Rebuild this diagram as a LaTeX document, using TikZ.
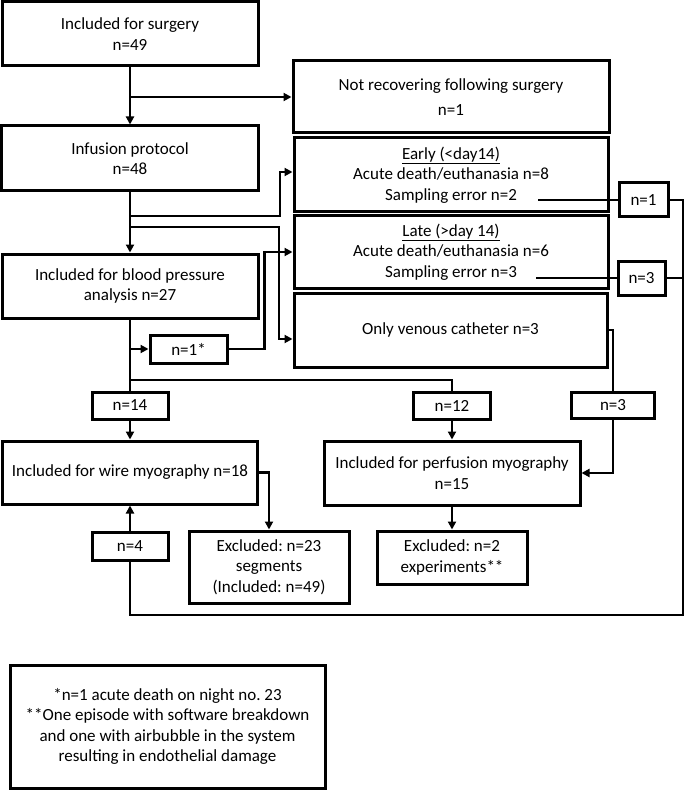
\documentclass[tikz,border=0pt]{standalone}
\usepackage{fontspec}
\setmainfont{Carlito}
\usepackage{tikz}
\usetikzlibrary{arrows.meta}
\frenchspacing

\begin{document}
\begin{tikzpicture}[x=1pt,y=-1pt,
  box/.style={draw,line width=3pt,align=center,inner sep=0pt,font=\fontsize{17}{20.5}\selectfont},
  link/.style={line width=2.6pt},
  arr/.style={link,-{Triangle[length=8pt,width=8pt]}}]
\useasboundingbox (0,0) rectangle (685,794);
% left column
\node[box,minimum width=256pt,minimum height=64pt] (surgery) at (130,34) {Included for surgery\\n=49};
\node[box,minimum width=257pt,minimum height=65pt] (infusion) at (130,158.5) {Infusion protocol\\n=48};
\node[box,minimum width=256pt,minimum height=64pt] (bp) at (130,286) {Included for blood pressure\\analysis n=27};
\node[box,minimum width=77pt,minimum height=28pt] (nstar) at (188.5,349) {n=1*};
\node[box,minimum width=76pt,minimum height=27pt] (nfourteen) at (130,405.5) {n=14};
\node[box,minimum width=255pt,minimum height=63pt] (wire) at (130,472.5) {Included for wire myography n=18};
\node[box,minimum width=76pt,minimum height=28pt] (nfour) at (130,546) {n=4};
\node[box,minimum width=160pt,minimum height=72pt] (exwire) at (269,567) {Excluded: n=23\\segments\\(Included: n=49)};
% right column
\node[box,minimum width=316pt,minimum height=72pt] (notrec) at (451,97) {Not recovering following surgery\\[4pt]n=1};
\node[box,minimum width=314pt,minimum height=74pt] (early) at (451,175) {\underline{Early (<day14)}\\Acute death/euthanasia n=8\\Sampling error n=2};
\node[box,minimum width=314pt,minimum height=72pt] (late) at (451,252) {\underline{Late (>day 14)}\\Acute death/euthanasia n=6\\Sampling error n=3};
\node[box,minimum width=313pt,minimum height=74pt] (venous) at (450.5,330) {Only venous catheter n=3};
\node[box,minimum width=49pt,minimum height=34pt] (none) at (643.5,200) {n=1};
\node[box,minimum width=47pt,minimum height=34pt] (nthree) at (641.5,278) {n=3};
\node[box,minimum width=77pt,minimum height=27pt] (ntwelve) at (452,405.5) {n=12};
\node[box,minimum width=83pt,minimum height=26pt] (nthreeb) at (613,405.5) {n=3};
\node[box,minimum width=256pt,minimum height=64pt] (perf) at (452,473) {Included for perfusion myography\\n=15};
\node[box,minimum width=150pt,minimum height=53pt] (experf) at (452,557.5) {Excluded: n=2\\experiments**};
% footnote
\node[box,minimum width=315pt,minimum height=123pt] (note) at (167.5,726.5) {*n=1 acute death on night no. 23\\**One episode with software breakdown\\and one with airbubble in the system\\resulting in endothelial damage};
\coordinate (s1) at (130,97);
\coordinate (s2) at (130,216);
\coordinate (s3) at (130,227);
\coordinate (s4) at (130,349);
\coordinate (s5) at (130,380);
\coordinate (e1) at (538,200);
\coordinate (e2) at (536,278);
\coordinate (c1) at (683,615);
\draw[arr] (surgery.south) -- (infusion.north);
\draw[arr] (s1) -- (notrec.west);
\draw[arr] (infusion.south) -- (bp.north);
\draw[arr] (s2) -- ++(150,0) |- ([yshift=3pt]early.west);
\draw[arr] (s3) -- ++(149,0) |- ([yshift=-9pt]venous.west);
\draw[link] (bp.south) -- (nfourteen.north);
\draw[arr] (nfourteen.south) -- (wire.north);
\draw[arr] (s4) -- (nstar.west);
\draw[arr] (nstar.east) -- ++(36,0) |- (late.west);
\draw[link] (s5) -| (ntwelve.north);
\draw[arr] (ntwelve.south) -- (perf.north);
\draw[link] (venous.east) -| (nthreeb.north);
\draw[arr] (nthreeb.south) |- (perf.east);
\draw[arr] (wire.east) -| (exwire.north);
\draw[arr] (perf.south) -- (experf.north);
\draw[link] (e1) -- (none.west);
\draw[link] (e2) -- (nthree.west);
\draw[link] (nthree.east) -- (nthree.east -| c1);
\draw[link] (none.east) -| (c1) -| (nfour.south);
\draw[arr] (nfour.north) -- (wire.south);
\end{tikzpicture}
\end{document}
